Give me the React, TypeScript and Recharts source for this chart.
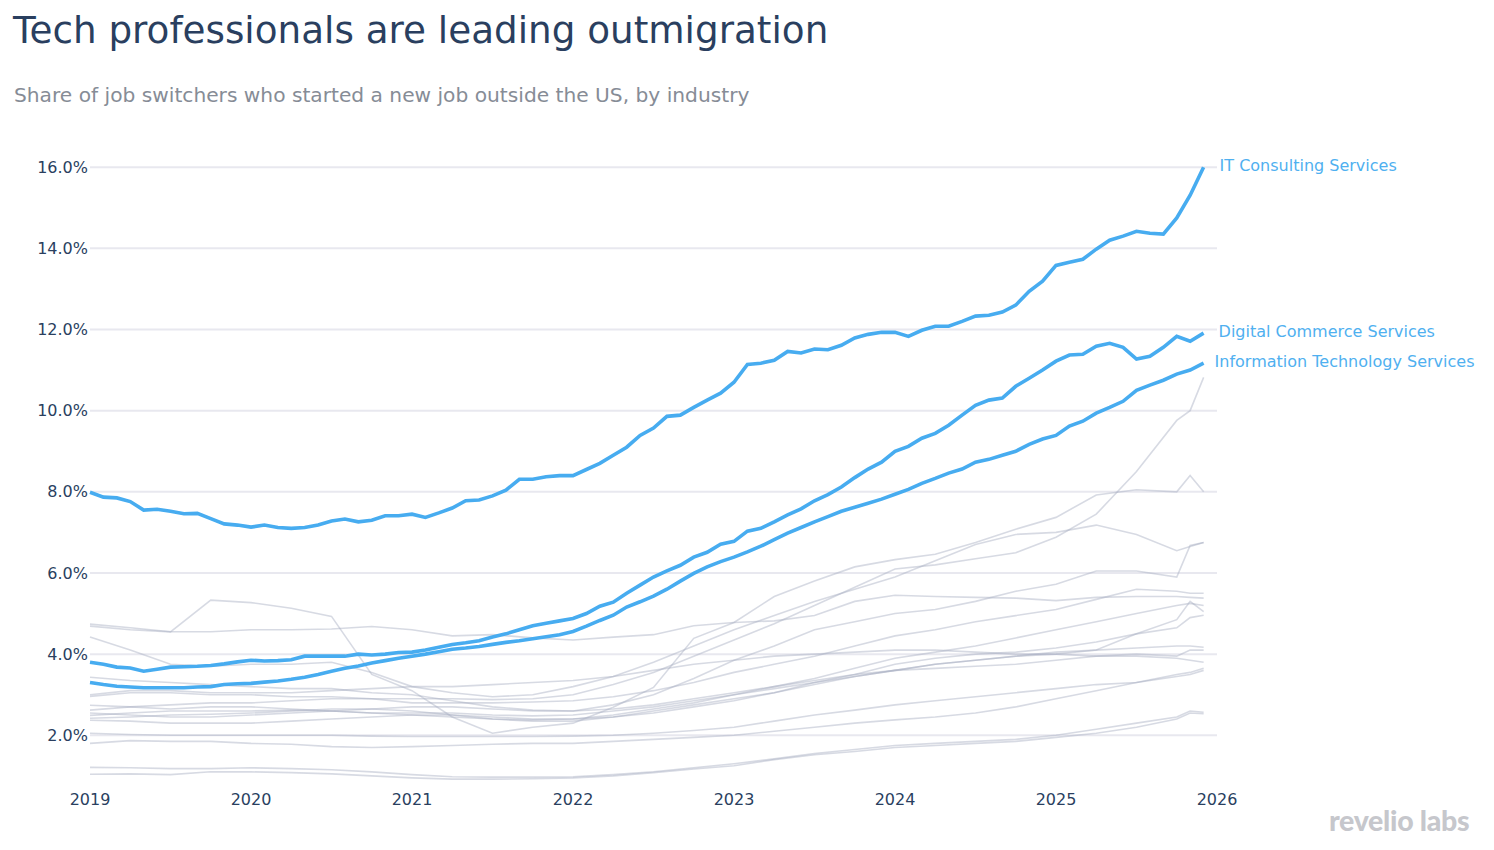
import React from "react";
import { LineChart, Line, XAxis, YAxis, CartesianGrid } from "recharts";

// ---------- data ----------
const startYear = 2019;
const xTicks = [2019, 2020, 2021, 2022, 2023, 2024, 2025, 2026];
const yTicks = [2, 4, 6, 8, 10, 12, 14, 16];

// monthly values, Jan 2019 .. Dec 2025 (share in %)
const itConsulting = [
  7.99, 7.87, 7.85, 7.76, 7.55, 7.57, 7.52, 7.46, 7.47, 7.34, 7.21, 7.18,
  7.13, 7.18, 7.12, 7.1, 7.12, 7.18, 7.28, 7.33, 7.26, 7.3, 7.41, 7.41,
  7.45, 7.37, 7.48, 7.6, 7.78, 7.8, 7.9, 8.04, 8.31, 8.31, 8.37, 8.4,
  8.4, 8.55, 8.7, 8.9, 9.1, 9.39, 9.57, 9.86, 9.89, 10.08, 10.26, 10.43,
  10.7, 11.14, 11.17, 11.24, 11.46, 11.42, 11.52, 11.5, 11.61, 11.79, 11.88, 11.93,
  11.93, 11.83, 11.98, 12.08, 12.08, 12.2, 12.33, 12.35, 12.43, 12.6, 12.94, 13.19,
  13.58, 13.66, 13.73, 13.98, 14.2, 14.3, 14.42, 14.37, 14.35, 14.75, 15.31, 16.0,
];
const digitalCommerce = [
  3.8, 3.75, 3.68, 3.66, 3.58, 3.63, 3.68, 3.69, 3.7, 3.72, 3.76, 3.81,
  3.85, 3.83, 3.84, 3.86, 3.95, 3.95, 3.95, 3.95, 4.0, 3.98, 4.0, 4.04,
  4.05, 4.1, 4.17, 4.24, 4.28, 4.33, 4.42, 4.5, 4.6, 4.7, 4.76, 4.82,
  4.88, 5.0, 5.18, 5.28, 5.5, 5.7, 5.9, 6.05, 6.19, 6.39, 6.51, 6.71,
  6.78, 7.03, 7.1, 7.26, 7.43, 7.58, 7.78, 7.93, 8.12, 8.35, 8.56, 8.73,
  9.0, 9.12, 9.32, 9.44, 9.64, 9.89, 10.13, 10.26, 10.31, 10.6, 10.8, 11.0,
  11.22, 11.37, 11.39, 11.59, 11.66, 11.56, 11.27, 11.34, 11.56, 11.83, 11.71, 11.91,
];
const itServices = [
  3.3, 3.25, 3.21, 3.19, 3.17, 3.17, 3.17, 3.17, 3.19, 3.2, 3.25, 3.27,
  3.28, 3.31, 3.34, 3.38, 3.43, 3.5, 3.58, 3.65, 3.71, 3.78, 3.84, 3.9,
  3.95, 4.0, 4.06, 4.12, 4.15, 4.19, 4.24, 4.29, 4.33, 4.38, 4.43, 4.48,
  4.56, 4.69, 4.83, 4.96, 5.16, 5.29, 5.43, 5.6, 5.8, 5.99, 6.15, 6.28,
  6.39, 6.52, 6.66, 6.82, 6.98, 7.12, 7.26, 7.39, 7.52, 7.62, 7.72, 7.82,
  7.94, 8.06, 8.21, 8.33, 8.46, 8.56, 8.73, 8.8, 8.9, 9.0, 9.17, 9.3,
  9.39, 9.62, 9.74, 9.94, 10.08, 10.23, 10.5, 10.63, 10.75, 10.9, 11.0, 11.17,
];

// other industries, read at quarterly points (+ last two months)
const grayTimes = [
  2019, 2019.25, 2019.5, 2019.75, 2020, 2020.25, 2020.5, 2020.75,
  2021, 2021.25, 2021.5, 2021.75, 2022, 2022.25, 2022.5, 2022.75,
  2023, 2023.25, 2023.5, 2023.75, 2024, 2024.25, 2024.5, 2024.75,
  2025, 2025.25, 2025.5, 2025.75, 2025.833, 2025.917,
];
const grayA = [4.69, 4.6, 4.55, 5.33, 5.27, 5.13, 4.93, 3.5, 3.1, 2.45, 2.05, 2.2, 2.3, 2.69, 3.18, 4.39, 4.78, 5.42, 5.8, 6.15, 6.33, 6.46, 6.75, 7.08, 7.37, 7.92, 8.05, 8.0, 8.4, 8.0];
const grayB = [2.62, 2.7, 2.75, 2.8, 2.8, 2.85, 2.9, 2.9, 2.9, 2.9, 2.88, 2.9, 3.0, 3.25, 3.55, 3.95, 4.35, 4.75, 5.2, 5.65, 6.1, 6.2, 6.35, 6.5, 6.88, 7.45, 8.5, 9.76, 10.0, 10.82];
const grayC = [4.74, 4.65, 4.55, 4.55, 4.6, 4.6, 4.62, 4.68, 4.6, 4.45, 4.48, 4.4, 4.35, 4.42, 4.48, 4.7, 4.78, 4.82, 4.95, 5.3, 5.45, 5.42, 5.4, 5.38, 5.32, 5.4, 5.42, 5.42, 5.4, 5.38];
const grayD = [4.42, 4.1, 3.75, 3.7, 3.75, 3.75, 3.8, 3.55, 3.2, 3.05, 2.95, 3.0, 3.2, 3.45, 3.8, 4.2, 4.6, 4.95, 5.3, 5.6, 5.9, 6.3, 6.7, 6.95, 7.0, 7.18, 6.95, 6.55, 6.65, 6.75];
const grayE = [3.43, 3.35, 3.3, 3.25, 3.2, 3.15, 3.15, 3.05, 3.0, 2.85, 2.7, 2.62, 2.6, 2.75, 3.0, 3.4, 3.85, 4.2, 4.6, 4.8, 5.0, 5.1, 5.3, 5.55, 5.72, 6.05, 6.05, 5.9, 6.68, 6.75];
const grayF = [2.96, 3.05, 3.05, 3.0, 3.0, 2.95, 2.95, 2.9, 2.8, 2.8, 2.8, 2.82, 2.85, 2.95, 3.1, 3.3, 3.55, 3.75, 3.95, 4.2, 4.45, 4.6, 4.8, 4.95, 5.1, 5.35, 5.6, 5.55, 5.5, 5.5];
const grayG = [2.74, 2.7, 2.65, 2.7, 2.7, 2.65, 2.6, 2.55, 2.5, 2.45, 2.4, 2.38, 2.4, 2.5, 2.65, 2.8, 3.0, 3.2, 3.4, 3.65, 3.9, 4.05, 4.2, 4.4, 4.6, 4.8, 5.0, 5.2, 5.25, 5.2];
const grayH = [2.49, 2.55, 2.6, 2.6, 2.6, 2.62, 2.6, 2.55, 2.55, 2.55, 2.5, 2.48, 2.5, 2.6, 2.7, 2.85, 3.0, 3.15, 3.3, 3.5, 3.75, 3.9, 4.0, 4.05, 4.15, 4.3, 4.5, 4.65, 4.9, 4.96];
const grayI = [2.42, 2.45, 2.5, 2.52, 2.55, 2.6, 2.65, 2.65, 2.6, 2.5, 2.4, 2.35, 2.35, 2.45, 2.6, 2.75, 2.9, 3.05, 3.25, 3.45, 3.6, 3.75, 3.85, 3.95, 4.0, 4.1, 4.5, 4.85, 5.3, 5.05];
const grayJ = [2.37, 2.35, 2.3, 2.3, 2.3, 2.35, 2.4, 2.45, 2.5, 2.5, 2.45, 2.4, 2.4, 2.45, 2.55, 2.7, 2.85, 3.05, 3.3, 3.45, 3.6, 3.75, 3.85, 3.95, 4.05, 4.1, 4.15, 4.2, 4.2, 4.17];
const grayK = [2.55, 2.5, 2.45, 2.45, 2.5, 2.55, 2.6, 2.65, 2.7, 2.7, 2.65, 2.6, 2.6, 2.65, 2.75, 2.9, 3.05, 3.2, 3.35, 3.5, 3.6, 3.65, 3.7, 3.75, 3.85, 3.95, 4.0, 3.95, 4.1, 4.1];
const grayL = [3.0, 3.1, 3.1, 3.05, 3.05, 3.05, 3.1, 3.15, 3.2, 3.2, 3.25, 3.3, 3.35, 3.45, 3.6, 3.75, 3.85, 3.95, 4.0, 4.05, 4.1, 4.1, 4.05, 4.0, 4.0, 3.95, 3.95, 3.9, 3.85, 3.8];
const grayM = [2.05, 2.02, 2.0, 2.0, 2.0, 2.0, 2.0, 1.98, 1.97, 1.97, 1.97, 1.97, 1.98, 2.0, 2.05, 2.12, 2.2, 2.35, 2.5, 2.62, 2.75, 2.85, 2.95, 3.05, 3.15, 3.25, 3.3, 3.5, 3.55, 3.65];
const grayN = [1.8, 1.87, 1.85, 1.85, 1.8, 1.78, 1.72, 1.7, 1.72, 1.75, 1.78, 1.8, 1.8, 1.85, 1.9, 1.95, 2.0, 2.1, 2.2, 2.3, 2.38, 2.45, 2.55, 2.7, 2.9, 3.1, 3.3, 3.45, 3.5, 3.6];
const grayO = [1.21, 1.2, 1.18, 1.18, 1.2, 1.18, 1.15, 1.1, 1.03, 0.98, 0.97, 0.97, 0.98, 1.03, 1.1, 1.2, 1.3, 1.42, 1.55, 1.65, 1.75, 1.8, 1.85, 1.9, 2.0, 2.15, 2.3, 2.45, 2.6, 2.57];
const grayP = [1.04, 1.05, 1.03, 1.1, 1.1, 1.08, 1.05, 1.0, 0.95, 0.92, 0.92, 0.93, 0.95, 1.0, 1.08, 1.17, 1.25, 1.4, 1.52, 1.6, 1.7, 1.75, 1.8, 1.85, 1.95, 2.05, 2.2, 2.4, 2.55, 2.53];

const grayLines = [grayA, grayB, grayC, grayD, grayE, grayF, grayG, grayH, grayI, grayJ, grayK, grayL, grayM, grayN, grayO, grayP];

const highlightNames = ["IT Consulting Services", "Digital Commerce Services", "Information Technology Services"];
const highlightValues = [itConsulting, digitalCommerce, itServices];

// ---------- build tables ----------
const monthly = itConsulting.map((_, i) => ({
  t: startYear + i / 12,
  s0: itConsulting[i],
  s1: digitalCommerce[i],
  s2: itServices[i],
}));
const grayData = grayLines.map((vals) => vals.map((v, i) => ({ t: grayTimes[i], v })));

// ---------- styles ----------
const FONT = "'DejaVu Sans', Verdana, sans-serif";
const NAVY = "#2a3f5f";
const BLUE = "#47acf0";
const LABEL_BLUE = "#4fb0f0";
const labelOffsets = [16, 15, 11];

const makeEndLabel = (name: string, n: number, dx: number) => (props: any) => {
  const { x, y, index } = props;
  if (index !== n - 1) return null;
  return (
    <text
      x={x + dx}
      y={y - 1.5}
      fill={LABEL_BLUE}
      fontSize={16}
      fontFamily={FONT}
      dominantBaseline="central"
      textAnchor="start"
    >
      {name}
    </text>
  );
};

export default function App() {
  return (
    <div style={{ position: "absolute", left: 0, top: 0, width: 1494, height: 850, background: "#fff", overflow: "hidden" }}>
      <div style={{ position: "absolute", left: 13, top: 8, fontFamily: FONT, fontSize: 37.3, color: NAVY, whiteSpace: "nowrap" }}>
        Tech professionals are leading outmigration
      </div>
      <div style={{ position: "absolute", left: 14, top: 83, fontFamily: FONT, fontSize: 20.2, color: "#868c96", whiteSpace: "nowrap" }}>
        Share of job switchers who started a new job outside the US, by industry
      </div>
      <LineChart width={1494} height={850} margin={{ top: 155, right: 277, bottom: 36, left: 10 }}>
        <CartesianGrid vertical={false} horizontalValues={yTicks} stroke="#e8e8ef" strokeWidth={2} />
        <XAxis
          type="number"
          dataKey="t"
          domain={[2019, 2026]}
          ticks={xTicks}
          axisLine={false}
          tickLine={false}
          tickSize={0}
          tickMargin={10}
          height={30}
          allowDuplicatedCategory={false}
          tick={{ fill: NAVY, fontSize: 16, fontFamily: FONT }}
        />
        <YAxis
          type="number"
          domain={[0.8, 16.3]}
          ticks={yTicks}
          width={80}
          axisLine={false}
          tickLine={false}
          tickSize={0}
          tickMargin={2}
          tickFormatter={(v: number) => `${v.toFixed(1)}%`}
          tick={{ fill: NAVY, fontSize: 16, fontFamily: FONT }}
        />
        {grayData.map((d, k) => (
          <Line
            key={"g" + k}
            data={d}
            dataKey="v"
            type="linear"
            stroke="#a7aec0"
            strokeOpacity={0.45}
            strokeWidth={1.6}
            dot={false}
            activeDot={false}
            isAnimationActive={false}
          />
        ))}
        {highlightNames.map((name, k) => (
          <Line
            key={"h" + k}
            data={monthly}
            dataKey={"s" + k}
            type="linear"
            stroke={BLUE}
            strokeWidth={3.6}
            dot={false}
            activeDot={false}
            isAnimationActive={false}
            label={makeEndLabel(name, highlightValues[k].length, labelOffsets[k])}
          />
        ))}
      </LineChart>
      <div
        style={{
          position: "absolute",
          left: 1329,
          top: 803,
          fontFamily: "Lato, 'Open Sans', sans-serif",
          fontWeight: 900,
          fontSize: 28.5,
          color: "#c6c7cc",
          letterSpacing: -0.3,
          whiteSpace: "nowrap",
        }}
      >
        revelio labs
      </div>
    </div>
  );
}
